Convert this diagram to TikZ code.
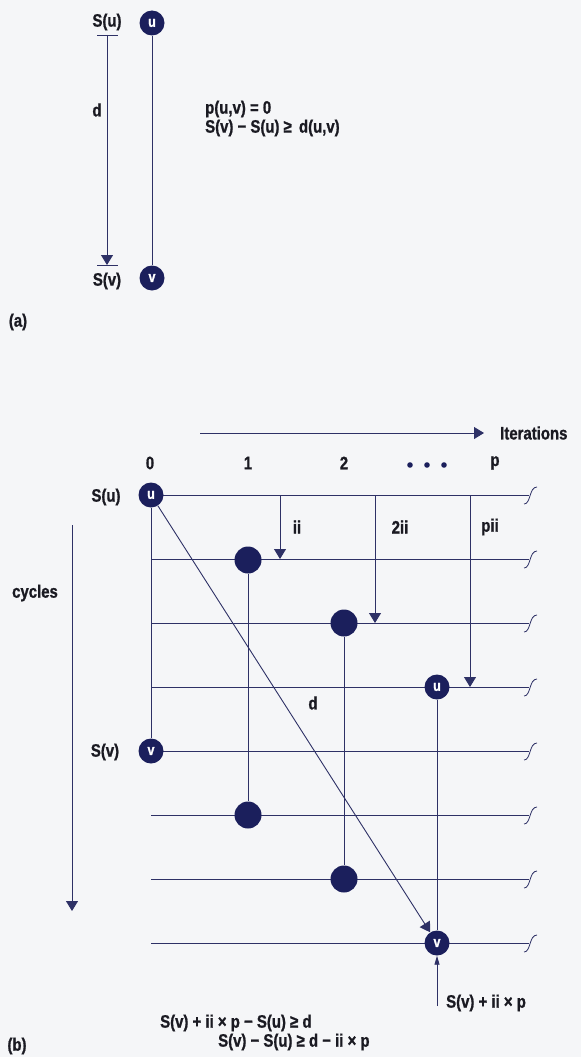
\documentclass[tikz,border=0pt]{standalone}
\usepackage{fontspec}
\setmainfont{Liberation Sans}[FakeStretch=0.83, BoldFeatures={FakeBold=1}]
\usetikzlibrary{arrows.meta,backgrounds}
\definecolor{navy}{HTML}{1B1F5C}
\definecolor{ln}{HTML}{2E3166}
\definecolor{bg}{HTML}{F5F6F8}
\definecolor{txt}{HTML}{1A1A22}
\begin{document}
\begin{tikzpicture}[x=1pt,y=-1pt,
 lbl/.style={font=\bfseries\fontsize{18}{21}\selectfont, text=txt, inner sep=0pt},
 dot/.style={circle, fill=navy, minimum size=25pt, inner sep=0pt, font=\bfseries\fontsize{15}{16}\selectfont, text=white},
 bigdot/.style={circle, fill=navy, minimum size=27pt, inner sep=0pt},
 wire/.style={draw=ln, line width=0.9pt},
 arr/.style={wire, -{Triangle[width=12pt,length=10pt]}},
 thinarr/.style={wire, -{Triangle[width=5pt,length=9pt]}},
 tick/.style={wire},
]
\begin{scope}[on background layer]
\fill[bg] (0,0) rectangle (581,1057);
\end{scope}

% ---------- (a) ----------
\node[lbl] (aSu) at (107,22) {S(u)};
\node[lbl] (aSv) at (107,281) {S(v)};
\node[lbl] (ad) at (97,110) {d};
\coordinate (atop) at (107,35);
\coordinate (abot) at (107,265);
\draw[tick] (97,35) -- (118,35);
\draw[tick] (97,265) -- (118,265);
\draw[arr] (atop) -- (abot);
\node[dot] (au) at (152,23) {u};
\node[dot] (av) at (152,278) {v};
\draw[wire] (au) -- (av);
\node[lbl, anchor=west] (aeq1) at (205,109) {p(u,v) = 0};
\node[lbl, anchor=west] (aeq2) at (205,128) {S(v) − S(u) ≥\, d(u,v)};
\node[lbl] (alab) at (18,322) {(a)};

% ---------- (b) ----------
\coordinate (itA) at (200,433);
\coordinate (itB) at (484,433);
\draw[arr] (itA) -- (itB);
\node[lbl, anchor=west] (iter) at (500,433) {Iterations};

\node[lbl] (c0) at (150,463) {0};
\node[lbl] (c1) at (248,463) {1};
\node[lbl] (c2) at (344,463) {2};
\fill[navy] (410,465) circle (2.8pt) (427,465) circle (2.8pt) (444,465) circle (2.8pt);
\node[lbl] (cp) at (495,463) {p};

\node[lbl] (bSu) at (106,497) {S(u)};
\node[lbl] (bSv) at (105,752) {S(v)};
\node[lbl] (cyc) at (35,593) {cycles};
\coordinate (cycA) at (72,525);
\coordinate (cycB) at (72,911);
\draw[arr] (cycA) -- (cycB);

\node[dot] (u0) at (151,495) {u};
\node[dot] (v0) at (151,751) {v};
\node[bigdot] (c1a) at (248,560) {};
\node[bigdot] (c1b) at (248,815) {};
\node[bigdot] (c2a) at (344,623) {};
\node[bigdot] (c2b) at (344,879) {};
\node[dot] (up) at (437,687) {u};
\node[dot] (vp) at (437,943) {v};

\begin{scope}[on background layer]
\foreach \y in {495,559,623,687,751,815,879,943}{
  \draw[wire] (151,\y) -- (529,\y);
  \draw[wire, line width=0.8pt] (524,\y+9) .. controls (531,\y+9) and (529,\y-8) .. (537,\y-8);
}
\draw[wire] (u0) -- (v0);
\draw[wire] (c1a) -- (c1b);
\draw[wire] (c2a) -- (c2b);
\draw[wire] (up) -- (vp);
\end{scope}

\draw[arr] (u0) -- (vp);
\node[lbl] (dl) at (313,703) {d};

\coordinate (ii0) at (280,495);
\coordinate (ii1) at (280,559);
\draw[arr] (ii0) -- (ii1);
\node[lbl] (iil) at (297,527) {ii};
\coordinate (iiB0) at (375,495);
\coordinate (iiB1) at (375,623);
\draw[arr] (iiB0) -- (iiB1);
\node[lbl] (iiBl) at (400,527) {2ii};
\coordinate (iiP0) at (470,495);
\coordinate (iiP1) at (470,687);
\draw[arr] (iiP0) -- (iiP1);
\node[lbl] (iiPl) at (490,527) {pii};

\coordinate (sb) at (437,1006);
\draw[thinarr] (sb) -- (vp);
\node[lbl, anchor=west] (sbl) at (446,1003) {S(v) + ii × p};

\node[lbl, anchor=west] (eq1) at (160,1023) {S(v) + ii × p − S(u) ≥ d};
\node[lbl, anchor=west] (eq2) at (218,1042) {S(v) − S(u) ≥ d − ii × p};
\node[lbl] (blab) at (17,1046) {(b)};
\end{tikzpicture}
\end{document}
